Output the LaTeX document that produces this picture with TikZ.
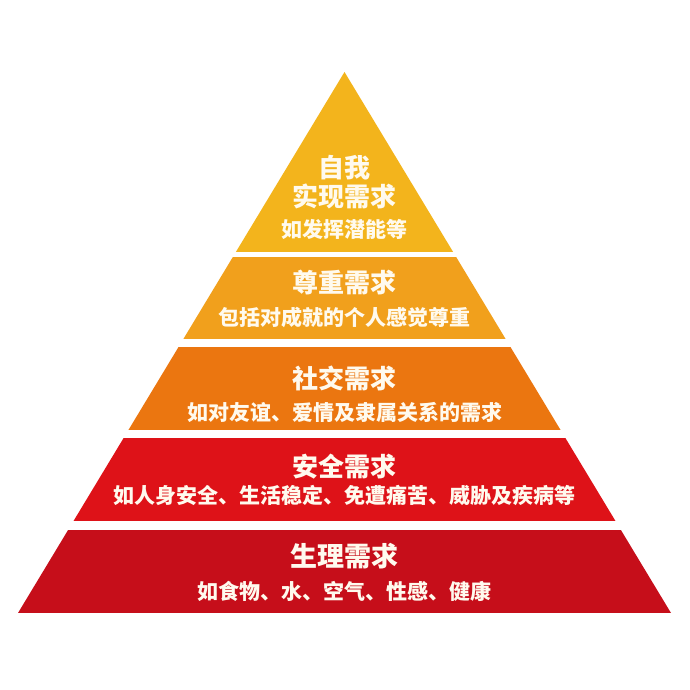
\documentclass[tikz,border=0pt]{standalone}
\usepackage{fontspec}
\newfontfamily\cjk{Noto Sans CJK SC}
\definecolor{lyA}{RGB}{243,180,28}
\definecolor{lyB}{RGB}{241,160,28}
\definecolor{lyC}{RGB}{235,118,16}
\definecolor{lyD}{RGB}{222,18,24}
\definecolor{lyE}{RGB}{198,14,26}
\definecolor{txt}{RGB}{255,250,238}
\tikzset{
  ttl/.style={text=txt, font=\cjk\bfseries\fontsize{26}{28}\selectfont, inner sep=0pt},
  sub/.style={text=txt, font=\cjk\bfseries\fontsize{21}{23}\selectfont, inner sep=0pt},
}
\begin{document}
\begin{tikzpicture}[x=1pt,y=-1pt]
\useasboundingbox (0,0) rectangle (690,690);
\fill[white] (0,0) rectangle (690,690);
\coordinate (apex) at (344.5,72);
\coordinate (bl) at (18,613);
\coordinate (br) at (671,613);
\begin{scope}
\clip (apex) -- (bl) -- (br) -- cycle;
\fill[lyA] (0,60) rectangle (690,252);
\fill[lyB] (0,257) rectangle (690,339);
\fill[lyC] (0,347) rectangle (690,430);
\fill[lyD] (0,438) rectangle (690,521);
\fill[lyE] (0,530) rectangle (690,613);
\end{scope}
\node[ttl] (t1a) at (344.5,168) {自我};
\node[ttl] (t1b) at (344.5,196) {实现需求};
\node[sub] (s1) at (344.5,229) {如发挥潜能等};
\node[ttl] (t2) at (344.5,283) {尊重需求};
\node[sub] (s2) at (344.5,317) {包括对成就的个人感觉尊重};
\node[ttl] (t3) at (344.5,378) {社交需求};
\node[sub] (s3) at (344.5,412) {如对友谊、爱情及隶属关系的需求};
\node[ttl] (t4) at (344.5,467) {安全需求};
\node[sub] (s4) at (344.5,495) {如人身安全、生活稳定、免遭痛苦、威胁及疾病等};
\node[ttl, font=\cjk\bfseries\fontsize{27}{29}\selectfont] (t5) at (344.5,556) {生理需求};
\node[sub] (s5) at (344.5,591) {如食物、水、空气、性感、健康};
\end{tikzpicture}
\end{document}
